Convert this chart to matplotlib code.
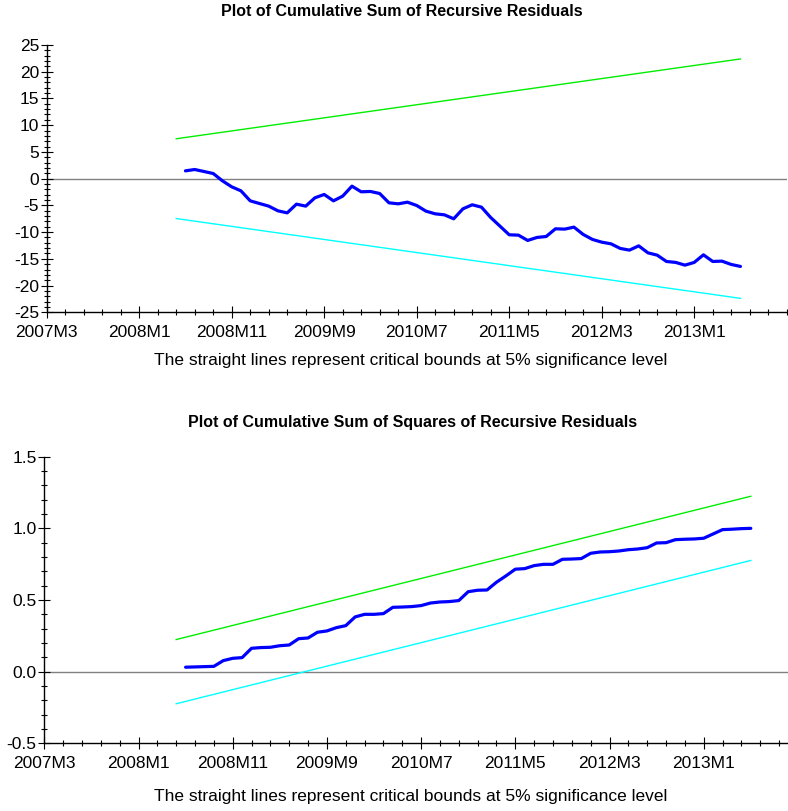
import numpy as np
import matplotlib
matplotlib.use("Agg")
import matplotlib.pyplot as plt
from matplotlib.ticker import MultipleLocator, FixedLocator, FuncFormatter

plt.rcParams['font.family'] = ['Liberation Sans', 'DejaVu Sans']

# ---- data ----
tick_labels = ["2007M3", "2008M1", "2008M11", "2009M9", "2010M7", "2011M5", "2012M3", "2013M1"]
first_obs = 15          # month index of first recursive residual (0 = 2007M3)
bound_months = [14, 75]

cusum = [1.46, 1.71, 1.34, 0.96, -0.41, -1.53, -2.28, -4.15, -4.65, -5.14,
         -6.02, -6.40, -4.77, -5.14, -3.58, -2.96, -4.15, -3.27, -1.40, -2.46,
         -2.40, -2.78, -4.52, -4.71, -4.40, -5.02, -6.08, -6.58, -6.77, -7.51,
         -5.64, -4.89, -5.33, -7.27, -8.88, -10.50, -10.57, -11.56, -11.00, -10.82,
         -9.38, -9.44, -9.07, -10.44, -11.37, -11.88, -12.19, -13.05, -13.37, -12.57,
         -13.88, -14.31, -15.49, -15.67, -16.18, -15.67, -14.25, -15.49, -15.43, -16.05,
         -16.42]
cusum_upper = [7.46, 22.39]
cusum_lower = [-7.46, -22.39]

cusumsq = [0.031, 0.033, 0.035, 0.037, 0.077, 0.093, 0.098, 0.163, 0.168, 0.170,
           0.181, 0.186, 0.230, 0.235, 0.275, 0.284, 0.307, 0.321, 0.382, 0.400,
           0.400, 0.405, 0.449, 0.451, 0.454, 0.461, 0.479, 0.486, 0.489, 0.496,
           0.558, 0.568, 0.570, 0.624, 0.668, 0.715, 0.719, 0.740, 0.749, 0.749,
           0.784, 0.786, 0.789, 0.826, 0.835, 0.837, 0.842, 0.851, 0.856, 0.865,
           0.898, 0.900, 0.921, 0.924, 0.926, 0.931, 0.961, 0.991, 0.994, 0.998,
           1.000]
cusumsq_upper = [0.224, 1.224]
cusumsq_lower = [-0.224, 0.776]

titles = ["Plot of Cumulative Sum of Recursive Residuals",
          "Plot of Cumulative Sum of Squares of Recursive Residuals"]
caption = "The straight lines represent critical bounds at 5% significance level"

# ---- figure ----
W, H = 788, 811
fig = plt.figure(figsize=(W / 100, H / 100), dpi=100)

def px_axes(left, right, top, bottom):
    return fig.add_axes([left / W, 1 - bottom / H, (right - left) / W, (bottom - top) / H])

ax1 = px_axes(46.7, 786.7, 45.0, 312.3)
ax2 = px_axes(44.3, 44.3 + 80 * 9.42, 456.7, 743.3)

def style(ax, ylim, major, minor, fmt):
    ax.set_xlim(0, 80)
    ax.set_ylim(*ylim)
    for s in ['top', 'right']:
        ax.spines[s].set_visible(False)
    for s in ['left', 'bottom']:
        ax.spines[s].set_linewidth(1.0)
        ax.spines[s].set_color('black')
    ax.xaxis.set_major_locator(FixedLocator(np.arange(0, 80, 10)))
    ax.set_xticklabels(tick_labels)
    ax.xaxis.set_minor_locator(MultipleLocator(2))
    ax.yaxis.set_major_locator(MultipleLocator(major))
    ax.yaxis.set_minor_locator(MultipleLocator(minor))
    ax.yaxis.set_major_formatter(fmt)
    ax.tick_params(axis='both', which='major', direction='inout', length=8, width=0.8,
                   labelsize=12.5, colors='black')
    ax.tick_params(axis='x', which='major', pad=5)
    ax.tick_params(axis='y', which='major', pad=1.5)
    ax.tick_params(axis='both', which='minor', direction='inout', length=5, width=0.8)
    ax.axhline(0, color='#808080', lw=1.0, zorder=1)

x = np.arange(first_obs, first_obs + len(cusum))
ax1.plot(bound_months, cusum_upper, color='#00ee00', lw=1.0)
ax1.plot(bound_months, cusum_lower, color='#00ffff', lw=1.0)
ax1.plot(x, cusum, color='#0000ff', lw=2.3, solid_joinstyle='round', solid_capstyle='round')
style(ax1, (-25, 25), 5, 1, FuncFormatter(lambda v, p: "%d" % round(v)))

x2 = np.arange(first_obs, first_obs + len(cusumsq))
ax2.plot(bound_months, cusumsq_upper, color='#00ee00', lw=1.0)
ax2.plot(bound_months, cusumsq_lower, color='#00ffff', lw=1.0)
ax2.plot(x2, cusumsq, color='#0000ff', lw=2.3, solid_joinstyle='round', solid_capstyle='round')
style(ax2, (-0.5, 1.5), 0.5, 0.1, FuncFormatter(lambda v, p: "%.1f" % v))

fig.text(401.7 / W, 1 - 12 / H, titles[0], ha='center', va='center', fontsize=11.5, fontweight='bold')
fig.text(411 / W, 1 - 361 / H, caption, ha='center', va='center', fontsize=12.5)
fig.text(412.5 / W, 1 - 422.7 / H, titles[1], ha='center', va='center', fontsize=11.5, fontweight='bold')
fig.text(411 / W, 1 - 797 / H, caption, ha='center', va='center', fontsize=12.5)

fig.savefig("out.png", dpi=100)
